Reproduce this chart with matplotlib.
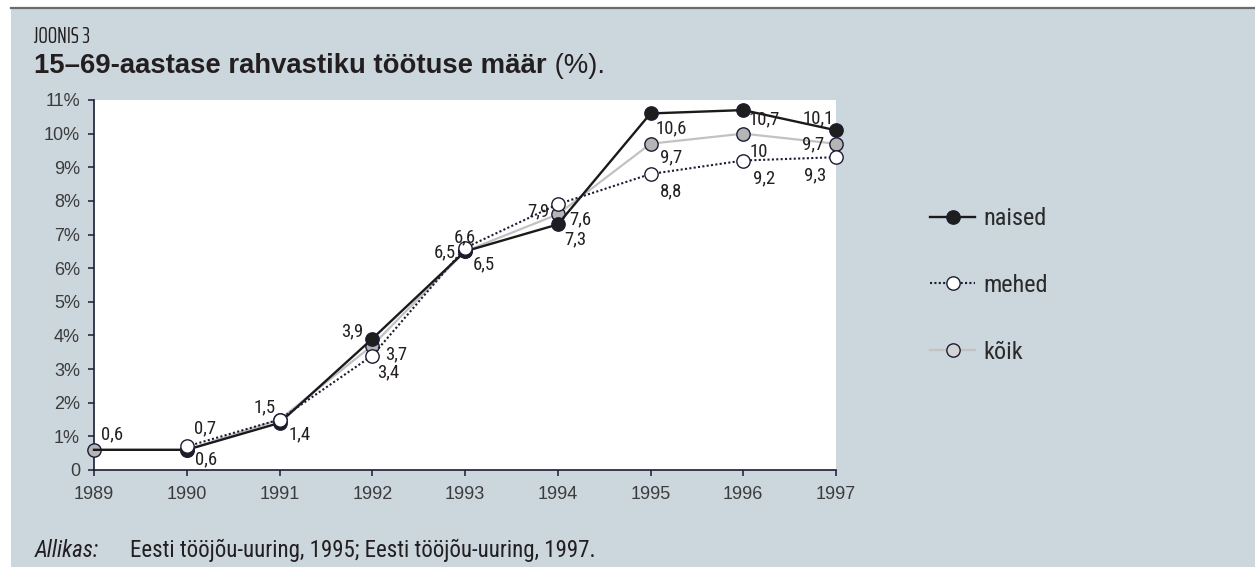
import matplotlib
matplotlib.use("Agg")
import matplotlib.pyplot as plt
from matplotlib.patches import Rectangle
from matplotlib.lines import Line2D
import numpy as np

# ---------------- data ----------------
years = [1989, 1990, 1991, 1992, 1993, 1994, 1995, 1996, 1997]
naised = [0.6, 0.6, 1.4, 3.9, 6.5, 7.3, 10.6, 10.7, 10.1]
mehed = [np.nan, 0.7, 1.5, 3.4, 6.6, 7.9, 8.8, 9.2, 9.3]
koik = [0.6, 0.6, 1.5, 3.7, 6.5, 7.6, 9.7, 10.0, 9.7]
series_names = ["naised", "mehed", "kõik"]
y_ticks = list(range(0, 12))
y_tick_labels = ["0"] + [f"{v}%" for v in range(1, 12)]
title_small = "JOONIS 3"
title_bold = "15–69-aastase rahvastiku töötuse määr"
title_tail = " (%)."
source_label = "Allikas:"
source_text = "Eesti tööjõu-uuring, 1995; Eesti tööjõu-uuring, 1997."

# label offsets in pixels (dx, dy); None = no label (style only)
off_naised = [None, (19, -10), (20, -11), (-20, 7), (-20, -1), (18, -15), (21, -15), (21, -9), (-18, 12)]
off_mehed = [None, (18, 18), None, (16, -17), (0, 11), (-19, -7), (21, -17), (21, -18), (-21, -18)]
off_koik = [(18, 15), None, (-15, 12), (24, -9), (19, -13), (23, -5), (21, -14), (16, -18), (-23, -1)]

# ---------------- style ----------------
BG = "#cbd6dd"
NAVY = "#1b1c33"
TXT = "#231f20"
COND = "Roboto Condensed"
W, H = 1255, 567

fig = plt.figure(figsize=(W / 100, H / 100), dpi=100)
fig.patch.set_facecolor("white")
fig.add_artist(Rectangle((11 / W, 0), 1 - 11 / W, 1 - 8 / H, transform=fig.transFigure,
                         facecolor=BG, edgecolor="none", zorder=0))
fig.add_artist(Line2D([11 / W, 1], [1 - 7.5 / H, 1 - 7.5 / H], transform=fig.transFigure,
                      color="#6b6b6b", lw=1.6, zorder=1))

ax_l, ax_r, ax_t, ax_b = 94, 836, 100, 470
ax = fig.add_axes([ax_l / W, 1 - ax_b / H, (ax_r - ax_l) / W, (ax_b - ax_t) / H])
ax.set_facecolor("white")
ax.set_xlim(years[0], years[-1])
ax.set_ylim(0, 11)

MS = 9.6
ax.plot(years, koik, color="#c2c2c2", lw=1.6, marker="o", ms=MS, mfc="#b5b5b5",
        mec=NAVY, mew=1.0, clip_on=False, zorder=3, label=series_names[2])
ax.plot(years, naised, color="#1a1a1a", lw=1.7, marker="o", ms=MS, mfc="#1e1e1e",
        mec=NAVY, mew=1.0, clip_on=False, zorder=4, markevery=list(range(1, len(years))),
        label=series_names[0])
ax.plot(years, mehed, color=NAVY, lw=1.5, ls=(0, (1, 1.1)), marker="o", ms=MS, mfc="white",
        mec=NAVY, mew=1.0, clip_on=False, zorder=5, label=series_names[1])


def fmt(v):
    return f"{v:g}".replace(".", ",")


for vals, offs in ((naised, off_naised), (mehed, off_mehed), (koik, off_koik)):
    for x, v, o in zip(years, vals, offs):
        if o is None or np.isnan(v):
            continue
        ax.annotate(fmt(v), (x, v), xytext=o, textcoords="offset pixels",
                    ha="center", va="center", fontsize=13.5, family=COND,
                    color=TXT, zorder=6, annotation_clip=False)

for s in ("top", "right"):
    ax.spines[s].set_visible(False)
for s in ("left", "bottom"):
    ax.spines[s].set_color(NAVY)
    ax.spines[s].set_linewidth(1.2)
ax.set_xticks(years)
ax.set_xticklabels([str(y) for y in years])
ax.set_yticks(y_ticks)
ax.set_yticklabels(y_tick_labels)
ax.tick_params(axis="both", direction="out", length=4, width=1.1, color=NAVY,
               labelsize=13, labelcolor="#3c3c3c")
ax.tick_params(axis="x", pad=7.5)
ax.tick_params(axis="y", pad=6)
for lab in ax.get_xticklabels() + ax.get_yticklabels():
    lab.set_family("Liberation Sans")

# legend
leg_handles = [
    Line2D([], [], color="#1a1a1a", lw=1.7, marker="o", ms=MS, mfc="#1e1e1e", mec=NAVY, mew=1.0),
    Line2D([], [], color=NAVY, lw=1.5, ls=(0, (1, 1.1)), marker="o", ms=MS, mfc="white", mec=NAVY, mew=1.0),
    Line2D([], [], color="#c2c2c2", lw=1.6, marker="o", ms=MS, mfc="#d4d4d4", mec=NAVY, mew=1.0),
]
leg = fig.legend(leg_handles, series_names, loc="upper left",
                 bbox_to_anchor=(918 / W, 1 - 195 / H), frameon=False,
                 prop={"family": COND, "size": 17.5}, handlelength=1.85,
                 handletextpad=0.33, labelspacing=1.8, borderpad=0)
for t in leg.get_texts():
    t.set_color("#2a2a2a")

# titles
fig.text(34 / W, 1 - 43 / H, title_small, ha="left", va="baseline",
         family="Saira ExtraCondensed", fontsize=16, color=TXT)
t1 = fig.text(34 / W, 1 - 73 / H, title_bold, ha="left", va="baseline",
              family="Liberation Sans", weight="bold", fontsize=19.8, color=TXT)
fig.canvas.draw()
bb = t1.get_window_extent()
fig.text(bb.x1 / W, 1 - 73 / H, title_tail, ha="left", va="baseline",
         family="Liberation Sans", fontsize=19.8, color=TXT)

fig.text(35 / W, 1 - 557 / H, source_label, ha="left", va="baseline",
         family=COND, style="italic", fontsize=16.5, color=TXT)
fig.text(130 / W, 1 - 557 / H, source_text, ha="left", va="baseline",
         family=COND, fontsize=16.5, color=TXT)

fig.savefig("out.png", dpi=100, facecolor=fig.get_facecolor())
